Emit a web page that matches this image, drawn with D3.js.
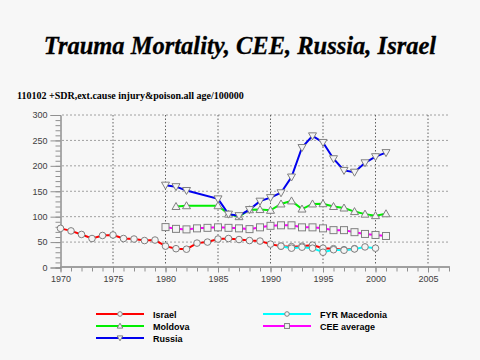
<!DOCTYPE html>
<html><head><meta charset="utf-8">
<script src="https://cdn.jsdelivr.net/npm/d3@7"></script>
<style>body{margin:0;background:#f7f7f7;}svg{display:block;}</style>
</head><body>
<script>
const title = "Trauma Mortality, CEE, Russia, Israel";
const subtitle = "110102 +SDR,ext.cause injury&poison.all age/100000";
const xTicks = [1970, 1975, 1980, 1985, 1990, 1995, 2000, 2005];
const yTicks = [0, 50, 100, 150, 200, 250, 300];

const israelYears = d3.range(1970, 1999);
const israelValues = [77,72,65,57,63,64,57,56,53,54,42,37,36,48,50,56,57,55,53,52,46,42,41,42,44,38,37,35,37];
const macedoniaYears = d3.range(1991, 2001);
const macedoniaValues = [42,38,40,38,30,35,34,36.5,40.5,38];
const ceeYears = d3.range(1980, 2002);
const ceeValues = [79.5,76,75,77,78,79,78,77,75.5,79,82,83,83,79,79,77,73.5,73.5,69.5,66,64,62];
const moldovaYears = [1981,1982,1985,1986,1987,1988,1989,1990,1991,1992,1993,1994,1995,1996,1997,1998,1999,2000,2001];
const moldovaValues = [120,121.5,121.5,105,100,113.6,114,112.5,125,131,115,125,125.5,120,117,110,105,102,105.7];
const russiaYears = [1980,1981,1982,1985,1986,1987,1988,1989,1990,1991,1992,1993,1994,1995,1996,1997,1998,1999,2000,2001];
const russiaValues = [162,159,151.5,135,105,102,114,130.5,137.5,147,178,236,259,246,214,191,187.5,206,218,226];

const series = [
  {name:"Israel", years:israelYears, values:israelValues, color:"#ff0000", marker:"circle"},
  {name:"Moldova", years:moldovaYears, values:moldovaValues, color:"#00ee00", marker:"triangle"},
  {name:"Russia", years:russiaYears, values:russiaValues, color:"#0000ee", marker:"down"},
  {name:"FYR Macedonia", years:macedoniaYears, values:macedoniaValues, color:"#00ffff", marker:"circle"},
  {name:"CEE average", years:ceeYears, values:ceeValues, color:"#ff00ff", marker:"square"}
];

const W = 480, H = 360;
const svg = d3.select("body").append("svg").attr("width", W).attr("height", H);
svg.append("rect").attr("width", W).attr("height", H).attr("fill", "#f7f7f7");

const x = d3.scaleLinear().domain([1970, 2007]).range([60.5, 449]);
const y = d3.scaleLinear().domain([0, 300]).range([267.5, 115]);

svg.append("text").attr("x", 240).attr("y", 54).attr("text-anchor", "middle")
  .attr("font-family", "Liberation Serif, Times New Roman, serif")
  .attr("font-weight", "bold").attr("font-style", "italic").attr("font-size", 24.5)
  .attr("fill", "#000").attr("stroke", "#000").attr("stroke-width", 0.3).text(title);
svg.append("text").attr("x", 17).attr("y", 99)
  .attr("font-family", "Liberation Serif, Times New Roman, serif")
  .attr("font-weight", "bold").attr("font-size", 10).attr("fill", "#000").text(subtitle);

// grid
const grid = svg.append("g");
grid.selectAll("line.h").data(yTicks.filter(d => d > 0)).enter().append("line")
  .attr("x1", 62).attr("x2", 449).attr("y1", d => y(d)).attr("y2", d => y(d))
  .attr("stroke", "#a0a0a0").attr("stroke-dasharray", "2,2");
grid.selectAll("line.v").data(xTicks.filter(d => d > 1970)).enter().append("line")
  .attr("x1", d => x(d)).attr("x2", d => x(d)).attr("y1", 115).attr("y2", 265)
  .attr("stroke", "#606060").attr("stroke-dasharray", "1.5,2");

// y axis
const yAxisMinor = d3.axisLeft(y).tickValues(d3.range(0, 301, 10)).tickSize(5).tickFormat("");
const gyMinor = svg.append("g").attr("transform", "translate(60.5,0)").call(yAxisMinor);
const yAxis = d3.axisLeft(y).tickValues(yTicks).tickSize(10).tickPadding(3);
const gy = svg.append("g").attr("transform", "translate(60.5,0)").call(yAxis);
[gy, gyMinor].forEach(g => {
  g.selectAll("path.domain").attr("stroke", "#909090");
  g.selectAll("line").attr("stroke", "#909090");
});
gy.selectAll("text").attr("font-family", "Liberation Sans, Arial, sans-serif").attr("font-size", 9).attr("fill", "#404040");

// x axis
const xAxisMinor = d3.axisBottom(x).tickValues(d3.range(1970, 2008, 1)).tickSize(5).tickSizeOuter(0).tickFormat("");
const gxMinor = svg.append("g").attr("transform", "translate(0,266.5)").call(xAxisMinor);
const xAxis = d3.axisBottom(x).tickValues(xTicks).tickSize(6).tickSizeOuter(0).tickPadding(3).tickFormat(d3.format("d"));
const gx = svg.append("g").attr("transform", "translate(0,266.5)").call(xAxis);
[gx, gxMinor].forEach(g => {
  g.selectAll("path.domain").attr("stroke", "#a0a0a0").attr("stroke-width", 2);
  g.selectAll("line").attr("stroke", "#909090");
});
gx.selectAll("text").attr("font-family", "Liberation Sans, Arial, sans-serif").attr("font-size", 9).attr("fill", "#404040");

function drawMarker(g, type, cx, cy, k) {
  let m;
  if (type === "circle") m = g.append("circle").attr("cx", cx).attr("cy", cy).attr("r", 3.3 * k);
  else if (type === "square") m = g.append("rect").attr("x", cx - 3.5 * k).attr("y", cy - 3.5 * k).attr("width", 7 * k).attr("height", 7 * k);
  else if (type === "triangle") m = g.append("path").attr("d", `M${cx},${cy-4*k}L${cx+4*k},${cy+3*k}L${cx-4*k},${cy+3*k}Z`);
  else m = g.append("path").attr("d", `M${cx},${cy+4*k}L${cx+4*k},${cy-3*k}L${cx-4*k},${cy-3*k}Z`);
  m.attr("fill", "#f4f4f4").attr("stroke", "#808080").attr("stroke-width", 1);
}

const line = d3.line().x(d => x(d[0])).y(d => y(d[1]));
series.forEach(s => {
  const pts = s.years.map((yr, i) => [yr, s.values[i]]);
  const g = svg.append("g");
  g.append("path").datum(pts).attr("d", line).attr("fill", "none")
    .attr("stroke", s.color).attr("stroke-width", 2);
  pts.forEach(p => drawMarker(g, s.marker, x(p[0]), y(p[1]), 1));
});

// legend
const legendPos = [
  {lx: 96, ly: 314},
  {lx: 96, ly: 326},
  {lx: 96, ly: 338},
  {lx: 263, ly: 314},
  {lx: 263, ly: 326}
];
series.forEach((s, i) => {
  const p = legendPos[i];
  const g = svg.append("g");
  g.append("line").attr("x1", p.lx).attr("x2", p.lx + 48).attr("y1", p.ly).attr("y2", p.ly)
    .attr("stroke", s.color).attr("stroke-width", 2);
  drawMarker(g, s.marker, p.lx + 24, p.ly, 0.7);
  g.append("text").attr("x", p.lx + 57).attr("y", p.ly + 3.5)
    .attr("font-family", "Liberation Sans, Arial, sans-serif").attr("font-weight", "bold")
    .attr("font-size", 9).attr("fill", "#000").text(s.name);
});
</script>
</body></html>
